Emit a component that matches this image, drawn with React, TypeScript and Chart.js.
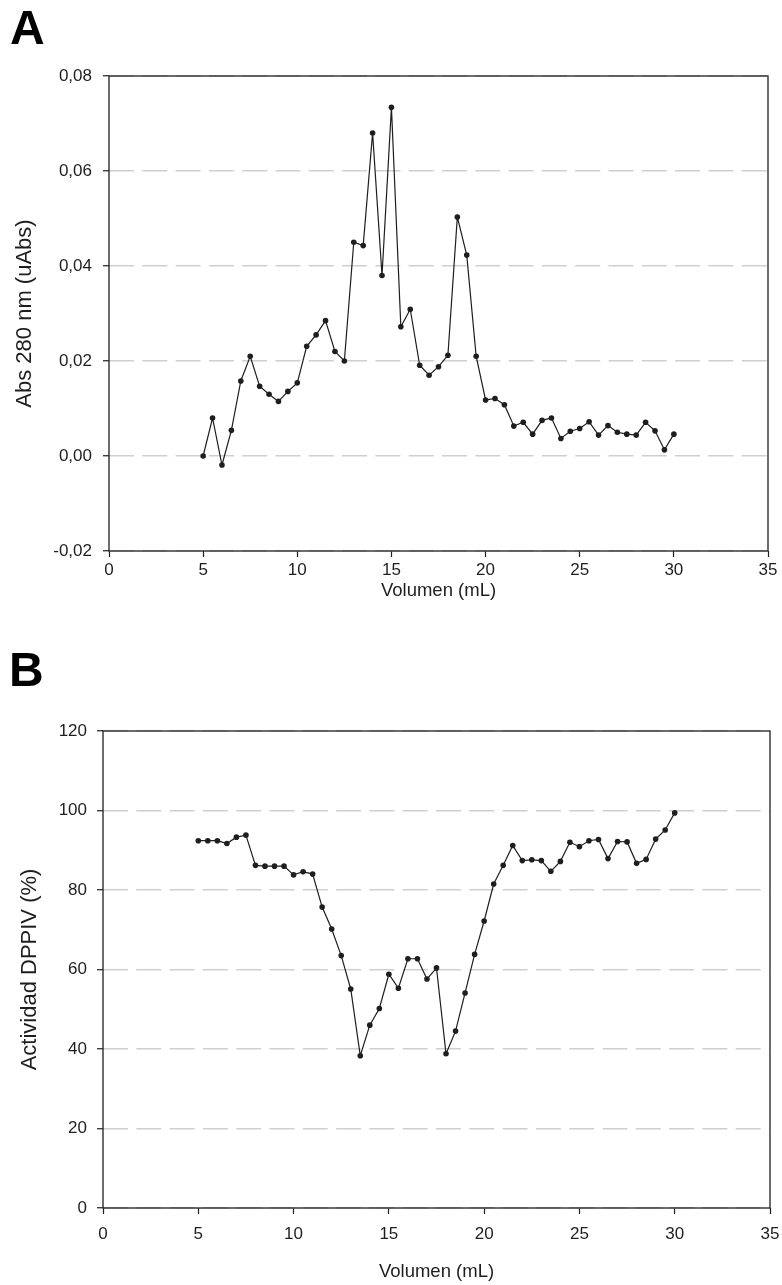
import React, { useEffect, useRef } from "react";
import { Chart, registerables } from "chart.js";

Chart.register(...registerables);

// ---- data ----
const volumes = [
  5, 5.5, 6, 6.5, 7, 7.5, 8, 8.5, 9, 9.5, 10, 10.5, 11, 11.5, 12, 12.5, 13, 13.5,
  14, 14.5, 15, 15.5, 16, 16.5, 17, 17.5, 18, 18.5, 19, 19.5, 20, 20.5, 21, 21.5,
  22, 22.5, 23, 23.5, 24, 24.5, 25, 25.5, 26, 26.5, 27, 27.5, 28, 28.5, 29, 29.5, 30,
];

const absorbance = [
  0.0, 0.008, -0.0019, 0.0054, 0.0158, 0.021, 0.0147, 0.013, 0.0115, 0.0136,
  0.0154, 0.0231, 0.0255, 0.0285, 0.022, 0.02, 0.045, 0.0443, 0.068, 0.038,
  0.0734, 0.0272, 0.0309, 0.0191, 0.017, 0.0188, 0.0212, 0.0503, 0.0423, 0.021,
  0.0118, 0.0121, 0.0108, 0.0063, 0.0071, 0.0046, 0.0075, 0.008, 0.0037, 0.0052,
  0.0058, 0.0072, 0.0044, 0.0064, 0.005, 0.0046, 0.0044, 0.0071, 0.0053, 0.0013,
  0.0046,
];

const activity = [
  92.4, 92.4, 92.4, 91.7, 93.3, 93.8, 86.2, 86.0, 86.0, 86.0, 83.8, 84.6, 84.0,
  75.7, 70.2, 63.5, 55.1, 38.3, 46.0, 50.2, 58.8, 55.3, 62.7, 62.7, 57.6, 60.4,
  38.8, 44.5, 54.1, 63.8, 72.2, 81.5, 86.2, 91.2, 87.4, 87.6, 87.4, 84.7, 87.2,
  92.0, 90.9, 92.4, 92.7, 87.9, 92.2, 92.1, 86.7, 87.7, 92.8, 95.1, 99.4,
];

const xTicks = { min: 0, max: 35, step: 5 };
const yTicksA = { min: -0.02, max: 0.08, step: 0.02 };
const yTicksB = { min: 0, max: 120, step: 20 };

const xTitle = "Volumen (mL)";
const yTitleA = "Abs 280 nm (uAbs)";
const yTitleB = "Actividad DPPIV (%)";

const FONT = "'Liberation Sans', Arial, sans-serif";
const INK = "#1e1e1e";

const framePlugin = {
  id: "frame",
  afterDraw(chart: any) {
    const { ctx, chartArea } = chart;
    ctx.save();
    ctx.strokeStyle = INK;
    ctx.lineWidth = 1.3;
    ctx.setLineDash([]);
    ctx.strokeRect(
      chartArea.left,
      chartArea.top,
      chartArea.right - chartArea.left,
      chartArea.bottom - chartArea.top
    );
    ctx.restore();
  },
};

type PanelProps = {
  width: number;
  height: number;
  top: number;
  plotLeft: number;
  plotRight: number;
  plotTop: number;
  plotBottom: number;
  values: number[];
  yCfg: { min: number; max: number; step: number };
  yTitle: string;
  yFmt: (v: number) => string;
  yTitlePad: number;
  xTitlePad: number;
  xTickPad: number;
  yTickPad: number;
};

function Panel(p: PanelProps) {
  const ref = useRef<HTMLCanvasElement | null>(null);
  useEffect(() => {
    if (!ref.current) return;
    const chart = new Chart(ref.current, {
      type: "line",
      data: {
        datasets: [
          {
            data: volumes.map((v, i) => ({ x: v, y: p.values[i] })),
            borderColor: INK,
            borderWidth: 1.2,
            pointBackgroundColor: INK,
            pointBorderColor: INK,
            pointRadius: 2.8,
            pointBorderWidth: 0,
            pointStyle: "circle",
            tension: 0,
            fill: false,
          },
        ],
      },
      plugins: [framePlugin],
      options: {
        animation: false,
        responsive: false,
        devicePixelRatio: 1,
        events: [],
        layout: {
          padding: {
            left: 0,
            top: p.plotTop,
            right: p.width - p.plotRight,
            bottom: 0,
          },
        },
        plugins: {
          legend: { display: false },
          tooltip: { enabled: false },
          title: { display: false },
        },
        scales: {
          x: {
            type: "linear",
            min: xTicks.min,
            max: xTicks.max,
            afterFit: (s: any) => {
              s.height = p.height - p.plotBottom;
              s.paddingLeft = 0;
              s.paddingRight = 0;
            },
            ticks: {
              stepSize: xTicks.step,
              color: INK,
              padding: p.xTickPad,
              font: { family: FONT, size: 17 },
              maxRotation: 0,
            },
            grid: {
              drawOnChartArea: false,
              drawTicks: true,
              tickLength: 6,
              tickColor: INK,
              tickWidth: 1.2,
              tickBorderDash: [],
            },
            border: { display: false },
            title: {
              display: true,
              text: xTitle,
              color: INK,
              font: { family: FONT, size: 18.5 },
              padding: { top: 0, bottom: p.xTitlePad },
            },
          },
          y: {
            type: "linear",
            min: p.yCfg.min,
            max: p.yCfg.max,
            afterFit: (s: any) => {
              s.width = p.plotLeft;
              s.paddingTop = 0;
              s.paddingBottom = 0;
            },
            ticks: {
              stepSize: p.yCfg.step,
              color: INK,
              padding: p.yTickPad,
              font: { family: FONT, size: 17 },
              callback: (v: any) => p.yFmt(Number(v)),
            },
            grid: {
              drawOnChartArea: true,
              drawTicks: true,
              tickLength: 6,
              tickColor: INK,
              tickWidth: 1.2,
              tickBorderDash: [],
              color: "#cfcfcf",
              lineWidth: 1.5,
            },
            border: { display: false, dash: [25, 8.3], dashOffset: 0 },
            title: {
              display: true,
              text: p.yTitle,
              color: INK,
              font: { family: FONT, size: 22 },
              padding: { top: p.yTitlePad, bottom: 0 },
            },
          },
        },
      } as any,
    });
    return () => chart.destroy();
  }, []);
  return (
    <canvas
      ref={ref}
      width={p.width}
      height={p.height}
      style={{
        position: "absolute",
        left: 0,
        top: p.top,
        width: p.width,
        height: p.height,
      }}
    />
  );
}

const letterStyle: React.CSSProperties = {
  position: "absolute",
  fontFamily: FONT,
  fontWeight: 700,
  fontSize: 48,
  lineHeight: "48px",
  color: "#000",
  margin: 0,
};

export default function App() {
  return (
    <div
      style={{
        position: "absolute",
        left: 0,
        top: 0,
        width: 782,
        height: 1285,
        background: "#fff",
        overflow: "hidden",
      }}
    >
      <Panel
        width={782}
        height={620}
        top={0}
        plotLeft={109}
        plotRight={768}
        plotTop={76}
        plotBottom={551}
        values={absorbance}
        yCfg={yTicksA}
        yTitle={yTitleA}
        yFmt={(v) => v.toFixed(2).replace(".", ",").replace("-0,00", "0,00")}
        yTitlePad={12}
        xTitlePad={18}
        xTickPad={3}
        yTickPad={11}
      />
      <Panel
        width={782}
        height={665}
        top={620}
        plotLeft={103}
        plotRight={770}
        plotTop={111}
        plotBottom={588}
        values={activity}
        yCfg={yTicksB}
        yTitle={yTitleB}
        yFmt={(v) => String(Math.round(v))}
        yTitlePad={17}
        xTitlePad={2}
        xTickPad={10}
        yTickPad={10}
      />
      <div style={{ ...letterStyle, left: 10, top: 4 }}>A</div>
      <div style={{ ...letterStyle, left: 9, top: 646 }}>B</div>
    </div>
  );
}
